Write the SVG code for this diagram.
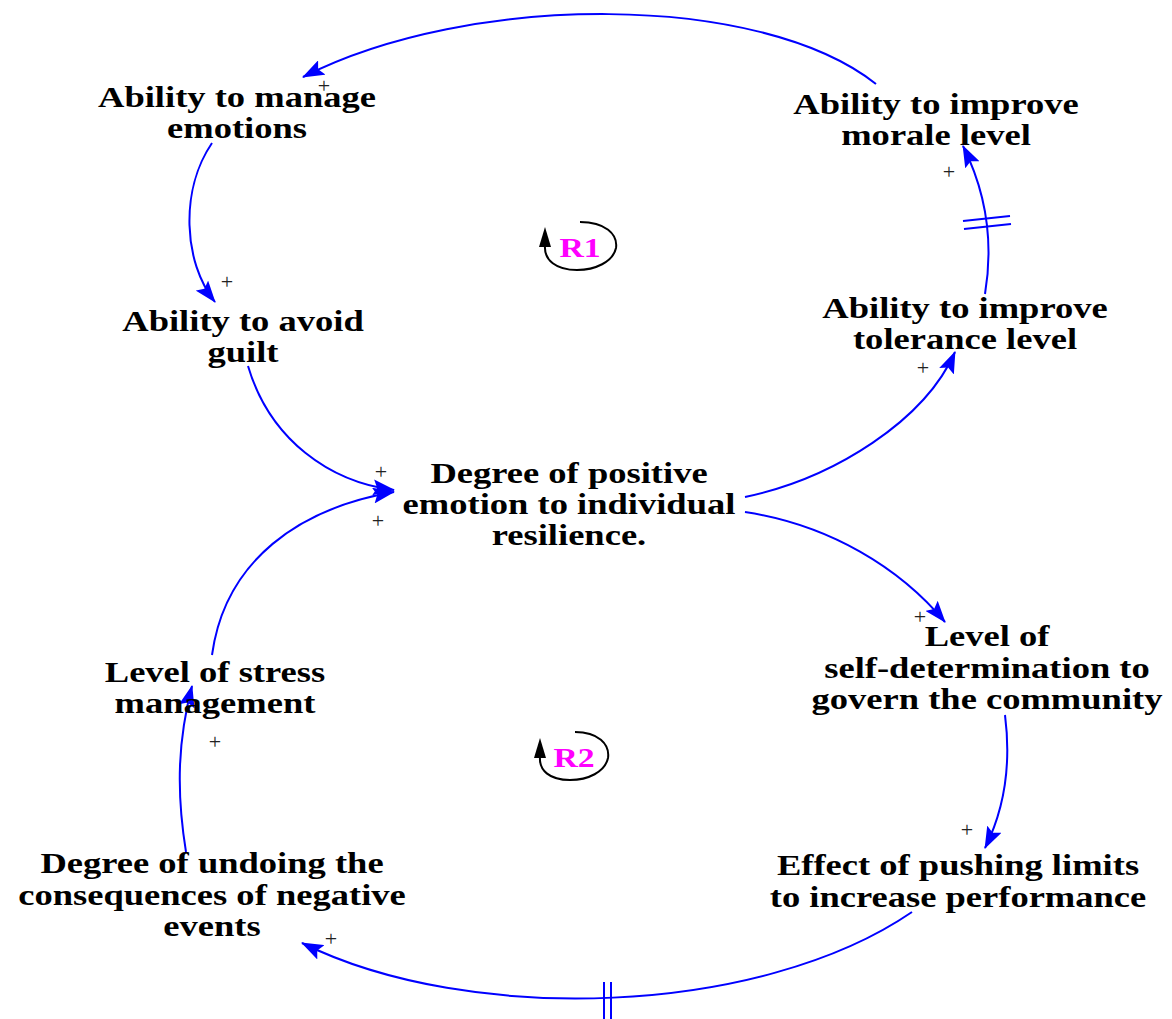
<svg xmlns="http://www.w3.org/2000/svg" width="1172" height="1019" viewBox="0 0 1172 1019">
  <style>
    .lbl { font-family: "Liberation Serif", "Times New Roman", serif; font-weight: bold; font-size: 29px; fill: #000; text-anchor: middle; }
    .pol { font-family: "Liberation Serif", "Times New Roman", serif; font-size: 22px; fill: #222; text-anchor: middle; }
    .loop { font-family: "Liberation Serif", "Times New Roman", serif; font-weight: bold; font-size: 27px; fill: #ff00ff; text-anchor: middle; }
    .link { fill: none; stroke: #0000ff; stroke-width: 2; marker-end: url(#arrow); }
    .delay { fill: none; stroke: #0000ff; stroke-width: 2; }
    .loopArc { fill: none; stroke: #000; stroke-width: 2; }
  </style>
  <defs>
    <marker id="arrow" markerWidth="22" markerHeight="16" refX="21" refY="8" orient="auto" markerUnits="userSpaceOnUse" viewBox="0 0 22 16">
      <path d="M0,0 L22,8 L0,16 L4,8 Z" fill="#0000ff"/>
    </marker>
  </defs>
  <rect width="1172" height="1019" fill="#fff"/>

  <!-- causal links -->
  <g id="connectors">
    <path class="link" d="M876,84 C760,-8 470,-8 303,77"/>
    <path class="link" d="M212,143 C180,190 183,262 215,302"/>
    <path class="link" d="M248,366 C270,440 330,482 394,490"/>
    <path class="link" d="M745,497 C835,478 925,420 955,352"/>
    <path class="link" d="M985,294 C994,240 986,192 963,146"/>
    <path class="delay" d="M963,221 L1010,216 M964,229 L1011,224"/>
    <path class="link" d="M745,512 C830,525 900,568 945,622"/>
    <path class="link" d="M1005,715 C1012,770 1003,812 985,848"/>
    <path class="link" d="M912,912 C760,1016 470,1026 302,943"/>
    <path class="delay" d="M604,982 L604,1019 M611,982 L611,1019"/>
    <path class="link" d="M186,852 C176,790 178,740 192,686"/>
    <path class="link" d="M212,655 C225,560 300,508 394,492"/>
  </g>

  <!-- link polarities -->
  <g id="polarities">
    <text class="pol" x="324" y="93">+</text>
    <text class="pol" x="227" y="289">+</text>
    <text class="pol" x="949" y="179">+</text>
    <text class="pol" x="923" y="375">+</text>
    <text class="pol" x="381" y="479">+</text>
    <text class="pol" x="378" y="528">+</text>
    <text class="pol" x="920" y="624">+</text>
    <text class="pol" x="967" y="837">+</text>
    <text class="pol" x="331" y="946">+</text>
    <text class="pol" x="215" y="749">+</text>
  </g>

  <!-- loop markers -->
  <g id="loop-R1">
    <path class="loopArc" d="M580,222 C605,222 618,234 616,248 C613,262 595,270 577,270 C556,270 544,260 545,246"/>
    <path d="M539,247 L545,227 L551,247 Z" fill="#000"/>
    <text class="loop" transform="translate(580,0) scale(1.25,1)" x="0" y="257">R1</text>
  </g>
  <g id="loop-R2">
    <path class="loopArc" d="M575,732 C598,732 610,744 608,758 C605,772 588,780 570,780 C549,780 539,770 540,757"/>
    <path d="M534,758 L540,738 L546,758 Z" fill="#000"/>
    <text class="loop" transform="translate(574,0) scale(1.25,1)" x="0" y="767">R2</text>
  </g>

  <!-- variables -->
  <g id="manage-emotions" transform="translate(237,0) scale(1.26,1)">
    <text class="lbl" x="0" y="107">Ability to manage</text>
    <text class="lbl" x="0" y="138">emotions</text>
  </g>
  <g id="improve-morale" transform="translate(936,0) scale(1.26,1)">
    <text class="lbl" x="0" y="114">Ability to improve</text>
    <text class="lbl" x="0" y="145">morale level</text>
  </g>
  <g id="avoid-guilt" transform="translate(243,0) scale(1.26,1)">
    <text class="lbl" x="0" y="331">Ability to avoid</text>
    <text class="lbl" x="0" y="362">guilt</text>
  </g>
  <g id="improve-tolerance" transform="translate(965,0) scale(1.26,1)">
    <text class="lbl" x="0" y="318">Ability to improve</text>
    <text class="lbl" x="0" y="349">tolerance level</text>
  </g>
  <g id="positive-emotion" transform="translate(569,0) scale(1.26,1)">
    <text class="lbl" x="0" y="483">Degree of positive</text>
    <text class="lbl" x="0" y="514">emotion to individual</text>
    <text class="lbl" x="0" y="545">resilience.</text>
  </g>
  <g id="self-determination" transform="translate(987,0) scale(1.26,1)">
    <text class="lbl" x="0" y="646">Level of</text>
    <text class="lbl" x="0" y="678">self-determination to</text>
    <text class="lbl" x="0" y="709">govern the community</text>
  </g>
  <g id="stress-management" transform="translate(215,0) scale(1.26,1)">
    <text class="lbl" x="0" y="682">Level of stress</text>
    <text class="lbl" x="0" y="713">management</text>
  </g>
  <g id="undoing-consequences" transform="translate(212,0) scale(1.26,1)">
    <text class="lbl" x="0" y="873">Degree of undoing the</text>
    <text class="lbl" x="0" y="905">consequences of negative</text>
    <text class="lbl" x="0" y="936">events</text>
  </g>
  <g id="pushing-limits" transform="translate(958,0) scale(1.26,1)">
    <text class="lbl" x="0" y="875">Effect of pushing limits</text>
    <text class="lbl" x="0" y="907">to increase performance</text>
  </g>
</svg>
